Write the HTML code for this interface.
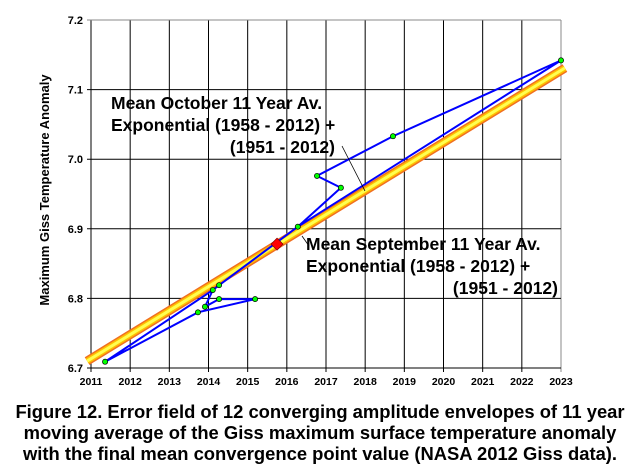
<!DOCTYPE html>
<html><head><meta charset="utf-8"><style>
body{margin:0;background:#fff;}
svg{display:block;font-family:"Liberation Sans",Arial,sans-serif;font-weight:bold;}
</style></head><body>
<svg id="chart" width="640" height="476" viewBox="0 0 640 476">
<g id="grid"></g>
<g id="band"></g>
<g id="series"></g>
<g id="axes"></g>
<text transform="translate(49,190) rotate(-90)" text-anchor="middle" font-size="13">Maximum Giss Temperature Anomaly</text>
<g font-size="17.5" fill="#000">
<text x="111" y="109">Mean October 11 Year Av.</text>
<text x="111" y="131">Exponential (1958 - 2012) +</text>
<text x="335" y="153" text-anchor="end">(1951 - 2012)</text>
</g>
<line x1="342" y1="146" x2="365" y2="191" stroke="#000" stroke-width="0.8"/>
<g font-size="17.5" fill="#000">
<text x="306" y="250">Mean September 11 Year Av.</text>
<text x="306" y="272">Exponential (1958 - 2012) +</text>
<text x="558" y="294" text-anchor="end">(1951 - 2012)</text>
</g>
<line x1="302" y1="236" x2="309" y2="246" stroke="#000" stroke-width="0.8"/>
<g font-size="18.4" text-anchor="middle">
<text x="320" y="418">Figure 12. Error field of 12 converging amplitude envelopes of 11 year</text>
<text x="320" y="439">moving average of the Giss maximum surface temperature anomaly</text>
<text x="320" y="460">with the final mean convergence point value (NASA 2012 Giss data).</text>
</g>
</svg>
<script>
const xTicks=[2011,2012,2013,2014,2015,2016,2017,2018,2019,2020,2021,2022,2023];
const yTicks=[6.7,6.8,6.9,7.0,7.1,7.2];
const yTickLabels=["6.7","6.8","6.9","7.0","7.1","7.2"];
const seriesYears=[2011.36,2013.73,2015.19,2014.27,2013.91,2014.11,2011.36,2014.11,2014.27,2016.28,2017.38,2016.77,2018.71,2023.0,2016.28];
const seriesValues=[6.709,6.780,6.799,6.799,6.788,6.812,6.709,6.812,6.819,6.903,6.959,6.976,7.033,7.142,6.903];
const markerYears=[2011.36,2013.73,2015.19,2014.27,2013.91,2014.11,2014.27,2016.28,2017.38,2016.77,2018.71,2023.0];
const markerValues=[6.709,6.780,6.799,6.799,6.788,6.812,6.819,6.903,6.959,6.976,7.033,7.142];
const bandYears=[2010.9,2023.1];
const bandValues=[6.710,7.131];
const convergeYear=[2015.75];
const convergeValue=[6.878];
const L=91,R=561,T=20,B=368;
const X=v=>L+(v-2011)/(2023-2011)*(R-L);
const Y=v=>B-(v-6.7)/(7.2-6.7)*(B-T);
const NS="http://www.w3.org/2000/svg";
function mk(tag,parent,attrs){const e=document.createElementNS(NS,tag);for(const k in attrs)e.setAttribute(k,attrs[k]);document.getElementById(parent).appendChild(e);return e;}
xTicks.forEach((t,i)=>{
 const l=mk('line','grid',{x1:X(t),x2:X(t),y1:T,y2:B+4,stroke:(i==xTicks.length-1?'#888':'#000'),'stroke-width':1});
 
 
 const tx=mk('text','axes',{x:X(t),y:B+17,'font-size':10.5,'text-anchor':'middle'});tx.textContent=t;
 
 
});
yTicks.forEach((t,i)=>{
 const l=mk('line','grid',{x1:L-4,x2:R,y1:Y(t),y2:Y(t),stroke:(i==yTicks.length-1?'#888':'#000'),'stroke-width':1});
 
 
 const tx=mk('text','axes',{x:L-8,y:Y(t)+4,'font-size':11,'text-anchor':'end'});tx.textContent=yTickLabels[i];
 
 
});
const bx1=X(bandYears[0]),by1=Y(bandValues[0]),bx2=X(bandYears[1]),by2=Y(bandValues[1]);
[['#f07020',9],['#ffc000',6],['#ffff50',3]].forEach(([c,w])=>{
 const l=mk('line','band',{x1:bx1,y1:by1,x2:bx2,y2:by2,stroke:c,'stroke-width':w});
 
 
});
const pts=seriesYears.map((y,i)=>X(y)+','+Y(seriesValues[i])).join(' ');
const pl=mk('polyline','series',{points:pts,fill:'none',stroke:'#0000ff','stroke-width':2});


markerYears.forEach((y,i)=>{
 const c=mk('circle','series',{cx:X(y),cy:Y(markerValues[i]),r:2.6,fill:'#00ff00',stroke:'#000','stroke-width':0.7});
 
 
});
const cx=X(convergeYear[0]),cy=Y(convergeValue[0]);
const d=mk('polygon','series',{points:`${cx},${cy-6} ${cx+6},${cy} ${cx},${cy+6} ${cx-6},${cy}`,fill:'#ff0000',stroke:'#800000','stroke-width':0.7});


</script>
</body></html>
